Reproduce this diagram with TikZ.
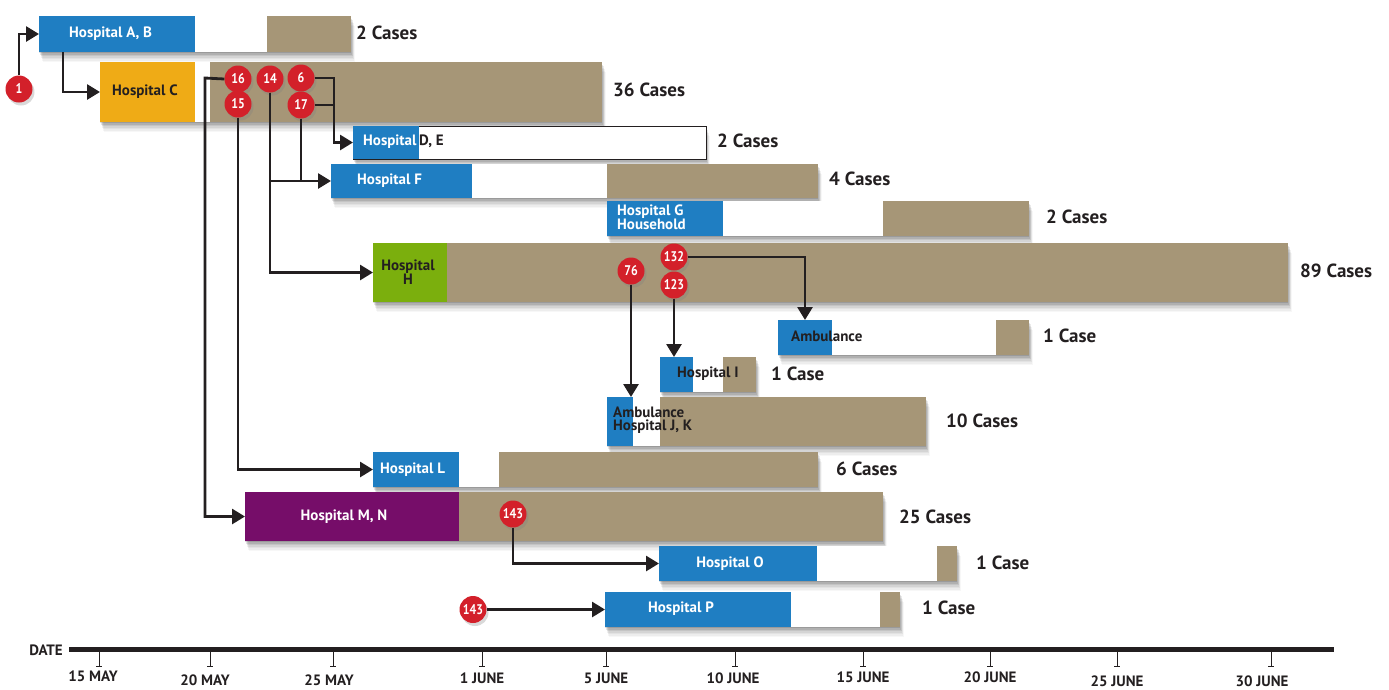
\documentclass[tikz,border=0pt]{standalone}
\usepackage{fontspec}
\setmainfont{PT Sans}
\newfontfamily\badgefont{PT Sans}[FakeStretch=0.85]
\usetikzlibrary{arrows.meta,shadows,calc}

\definecolor{hblue}{HTML}{1F7EC2}
\definecolor{htan}{HTML}{A69677}
\definecolor{horange}{HTML}{EFAB16}
\definecolor{hgreen}{HTML}{7BAF0D}
\definecolor{hpurple}{HTML}{760D69}
\definecolor{hred}{HTML}{D3202A}
\definecolor{ink}{HTML}{231F20}

% soft shadow under a bar: x0, y0, x1, y1
\newcommand\softshadow[4]{%
  \foreach \d/\o in {1/0.12,2.5/0.10,4/0.08,5.5/0.06,7/0.05,8.5/0.04,10/0.03}{%
    \fill[black,opacity=\o] (#1+0.4*\d,#2+\d) rectangle (#3+0.4*\d,#4+\d);}}

\tikzset{
  seg/.style={draw=none, inner sep=0pt, outer sep=0pt, anchor=north west},
  lbl/.style={font=\bfseries\fontsize{15}{13.5}\selectfont, inner sep=0pt, align=left},
  wlbl/.style={lbl, text=white},
  dlbl/.style={lbl, text=ink},
  cases/.style={font=\bfseries\fontsize{19}{19}\selectfont, text=ink, anchor=west, inner sep=0pt},
  badge/.style={circle, fill=hred, text=white, minimum size=27pt, inner sep=0pt,
    font=\badgefont\bfseries\fontsize{14}{14}\selectfont,
    drop shadow={shadow xshift=2pt, shadow yshift=-3pt, opacity=0.3}},
  link/.style={draw=ink, line width=2.8pt, -{Triangle[length=13pt,width=15pt]}},
  plain/.style={draw=ink, line width=2.8pt},
  datelbl/.style={font=\bfseries\fontsize{15}{15}\selectfont, text=ink, inner sep=0pt},
}

\begin{document}
\begin{tikzpicture}[x=1pt, y=-1pt]
\useasboundingbox (0,0) rectangle (1389,689);

% ---- Hospital A, B
\softshadow{39}{16}{351}{52}
\fill[htan] (267,16) rectangle (351,52);
\fill[white] (195,16) rectangle (267,52);
\node[seg, fill=hblue, minimum width=156pt, minimum height=36pt] (hAB) at (39,16) {};
\node[wlbl, anchor=west] (tAB) at (69,34) {Hospital A, B};
\node[cases] (nAB) at (356,33) {2 Cases};

% ---- Hospital C
\softshadow{100}{62}{602}{122}
\fill[htan] (210,62) rectangle (602,122);
\fill[white] (195,62) rectangle (210,122);
\node[seg, fill=horange, minimum width=95pt, minimum height=60pt] (hC) at (100,62) {};
\node[dlbl, anchor=west] (tC) at (112,92) {Hospital C};
\node[cases] (nC) at (613,90) {36 Cases};

% ---- Hospital D, E
\softshadow{353}{126}{706}{159}
\fill[white, draw=ink, line width=1pt] (353,126) rectangle (706,159);
\node[seg, fill=hblue, minimum width=66pt, minimum height=33pt] (hDE) at (353,126) {};
\node[dlbl, anchor=west] (tDE) at (363,142) {\textcolor{white}{Hospital}\,D, E};
\node[cases] (nDE) at (717,141) {2 Cases};

% ---- Hospital F
\softshadow{331}{164}{818}{198}
\fill[htan] (607,164) rectangle (818,198);
\fill[white] (472,164) rectangle (607,198);
\node[seg, fill=hblue, minimum width=141pt, minimum height=34pt] (hF) at (331,164) {};
\node[wlbl, anchor=west] (tF) at (357,181) {Hospital F};
\node[cases] (nF) at (829,179) {4 Cases};

% ---- Hospital G / Household
\softshadow{607}{201}{1029}{236}
\fill[htan] (883,201) rectangle (1029,236);
\fill[white] (723,201) rectangle (883,236);
\node[seg, fill=hblue, minimum width=116pt, minimum height=35pt] (hG) at (607,201) {};
\node[wlbl, anchor=west] (tG) at (617,217) {Hospital G\\Household};
\node[cases] (nG) at (1046,217) {2 Cases};

% ---- Hospital H
\softshadow{373}{243}{1288}{302}
\fill[htan] (447,243) rectangle (1288,302);
\node[seg, fill=hgreen, minimum width=74pt, minimum height=59pt] (hH) at (373,243) {};
\node[dlbl, align=center] (tH) at (408,272) {Hospital\\H};
\node[cases] (nH) at (1300,271) {89 Cases};

% ---- Ambulance
\softshadow{778}{320}{1029}{355}
\fill[htan] (996,320) rectangle (1029,355);
\fill[white] (832,320) rectangle (996,355);
\node[seg, fill=hblue, minimum width=54pt, minimum height=35pt] (amb) at (778,320) {};
\node[dlbl, anchor=west] (tAmb) at (791,336) {Ambulance};
\node[cases] (nAmb) at (1043,336) {1 Case};

% ---- Hospital I
\softshadow{660}{357}{756}{392}
\fill[htan] (723,357) rectangle (756,392);
\fill[white] (693,357) rectangle (723,392);
\node[seg, fill=hblue, minimum width=33pt, minimum height=35pt] (hI) at (660,357) {};
\node[dlbl, anchor=west] (tI) at (677,374) {Hospital I};
\node[cases] (nI) at (771,374) {1 Case};

% ---- Ambulance / Hospital J, K
\softshadow{607}{397}{926}{446}
\fill[htan] (660,397) rectangle (926,446);
\fill[white] (633,397) rectangle (660,446);
\node[seg, fill=hblue, minimum width=26pt, minimum height=49pt] (hJK) at (607,397) {};
\node[dlbl, anchor=west] (tJK) at (613,420) {Ambulance\\Hospital J, K};
\node[cases] (nJK) at (946,421) {10 Cases};

% ---- Hospital L
\softshadow{373}{452}{818}{487}
\fill[htan] (499,452) rectangle (818,487);
\fill[white] (459,452) rectangle (499,487);
\node[seg, fill=hblue, minimum width=86pt, minimum height=35pt] (hL) at (373,452) {};
\node[wlbl, anchor=west] (tL) at (380,470) {Hospital L};
\node[cases] (nL) at (836,469) {6 Cases};

% ---- Hospital M, N
\softshadow{245}{492}{883}{541}
\fill[htan] (459,492) rectangle (883,541);
\node[seg, fill=hpurple, minimum width=214pt, minimum height=49pt] (hMN) at (245,492) {};
\node[wlbl] (tMN) at (344,517) {Hospital M, N};
\node[cases] (nMN) at (899,517) {25 Cases};

% ---- Hospital O
\softshadow{659}{546}{957}{581}
\fill[htan] (937,546) rectangle (957,581);
\fill[white] (817,546) rectangle (937,581);
\node[seg, fill=hblue, minimum width=158pt, minimum height=35pt] (hO) at (659,546) {};
\node[wlbl] (tO) at (730,564) {Hospital O};
\node[cases] (nO) at (976,563) {1 Case};

% ---- Hospital P
\softshadow{605}{592}{900}{627}
\fill[htan] (880,592) rectangle (900,627);
\fill[white] (791,592) rectangle (880,627);
\node[seg, fill=hblue, minimum width=186pt, minimum height=35pt] (hP) at (605,592) {};
\node[wlbl] (tP) at (681,609) {Hospital P};
\node[cases] (nP) at (922,608) {1 Case};

% ---- case badges
\node[badge] (b1)    at (19,89)  {1};
\node[badge] (b16)   at (238,79) {16};
\node[badge] (b14)   at (270,79) {14};
\node[badge] (b6)    at (301,78) {6};
\node[badge] (b15)   at (238,104) {15};
\node[badge] (b17)   at (301,105) {17};
\node[badge] (b76)   at (631,271) {76};
\node[badge] (b132)  at (674,257) {132};
\node[badge] (b123)  at (674,285) {123};
\node[badge] (b143a) at (513,514) {143};
\node[badge] (b143b) at (473,609.5) {143};

% ---- transmission links
\coordinate (k16) at (205,78);
\coordinate (k6)  at (334,78);
\draw[link] (b1.north) |- (hAB.west);
\draw[link] ($(hAB.south west)+(24,0)$) |- (hC.west);
\draw[link] (b16.west) -- (k16) |- (hMN.west);
\draw[link] (b15.south) |- (hL.west);
\draw[link] (b14.south) |- (hH.west);
\draw[link] (b14.south) |- (hF.west);
\draw[plain] (b17.south) -- (b17.south |- hF.west);
\draw[link] (b6.east) -- (k6) |- (hDE.west);
\draw[plain] (b17.east) -- (b17.east -| k6);
\draw[link] (b132.east) -| (amb.north);
\draw[link] (b123.south) -- (b123.south |- hI.north);
\draw[link] (b76.south) -- (b76.south |- hJK.north);
\draw[link] (b143a.south) |- (hO.west);
\draw[link] (b143b.east) -- (b143b.east -| hP.west);

% ---- date axis
\coordinate (ax0) at (69,649.5);
\coordinate (ax1) at (1334,649.5);
\draw[ink, line width=4.5pt] (ax0) -- (ax1);
\node[datelbl, anchor=east] (date) at (63,650) {DATE};
\foreach \x/\lx/\t/\yy [count=\i] in {99/93/15 MAY/676, 210/205/20 MAY/680,
    333/329/25 MAY/680, 482/482/1 JUNE/678, 606/606/5 JUNE/678,
    735/733/10 JUNE/678, 863/863/15 JUNE/677, 990/990/20 JUNE/677,
    1117/1117/25 JUNE/681, 1271/1262/30 JUNE/681}{
  \draw[ink, line width=0.9pt] (\x,651) -- (\x,666) (\x-3,666) -- (\x+3,666);
  \node[datelbl] (d\i) at (\lx,\yy) {\t};
}
\end{tikzpicture}
\end{document}
